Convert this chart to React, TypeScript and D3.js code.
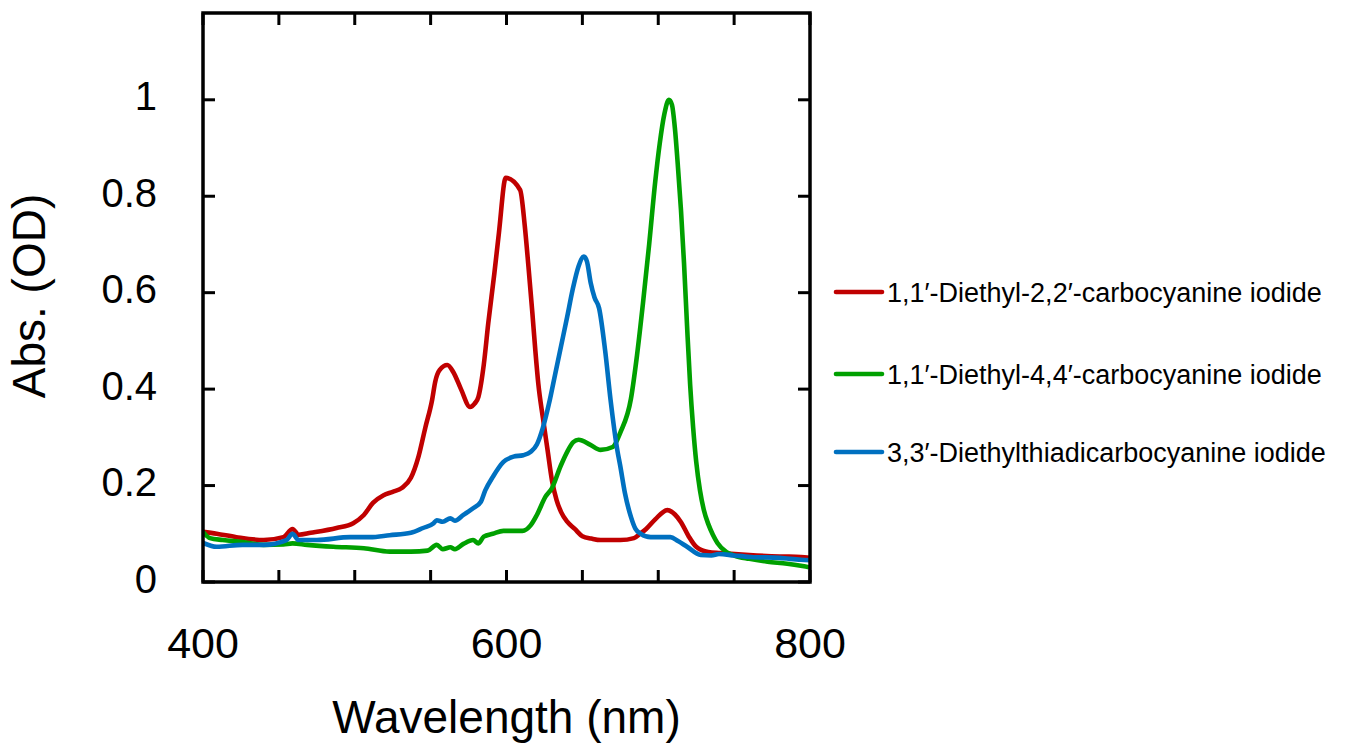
import * as d3 from "d3";

// absorbance spectra (wavelength nm, OD)
const redX = [400, 409, 422, 440, 453, 459, 463, 471, 488, 499, 506, 512, 519, 525, 531, 537, 542, 546.5, 551, 553, 556, 561, 565, 570, 576, 579, 581.5, 585, 588, 592, 595, 599.5, 609, 612, 614.5, 617, 619, 621, 624, 627, 630, 633, 636, 640, 645, 650, 656, 662, 675, 684, 688, 692, 698, 706, 711, 715, 720, 725, 733, 741, 760, 780, 794, 800];
const redY = [0.104, 0.1, 0.093, 0.087, 0.093, 0.11, 0.098, 0.102, 0.112, 0.122, 0.139, 0.164, 0.18, 0.187, 0.195, 0.216, 0.26, 0.32, 0.378, 0.415, 0.44, 0.45, 0.435, 0.4, 0.363, 0.37, 0.384, 0.45, 0.537, 0.64, 0.724, 0.838, 0.813, 0.74, 0.653, 0.56, 0.48, 0.41, 0.34, 0.275, 0.21, 0.17, 0.145, 0.125, 0.11, 0.095, 0.09, 0.087, 0.087, 0.091, 0.1, 0.11, 0.13, 0.149, 0.14, 0.124, 0.095, 0.073, 0.062, 0.06, 0.056, 0.053, 0.052, 0.05];

const greenX = [400, 404.6, 413, 426, 440, 453, 459, 468.6, 486, 506, 523, 537, 548, 554, 558, 563, 566, 571.6, 578, 581.5, 585, 591, 598, 610.5, 616, 620, 625.7, 630, 635.6, 640, 644, 647.5, 655, 662, 670, 675, 682, 686, 690, 694, 698, 701, 704, 707, 709, 711, 713, 715, 717, 719, 721, 723, 725, 727.5, 730, 733, 736, 739, 745, 750, 760, 772, 785, 795, 800];
const greenY = [0.104, 0.091, 0.087, 0.083, 0.077, 0.078, 0.08, 0.077, 0.073, 0.07, 0.063, 0.063, 0.065, 0.077, 0.068, 0.072, 0.068, 0.079, 0.087, 0.08, 0.094, 0.1, 0.106, 0.106, 0.118, 0.139, 0.177, 0.195, 0.24, 0.27, 0.29, 0.295, 0.285, 0.274, 0.28, 0.31, 0.38, 0.47, 0.58, 0.7, 0.83, 0.91, 0.97, 1.0, 0.99, 0.94, 0.86, 0.77, 0.66, 0.53, 0.41, 0.32, 0.25, 0.19, 0.15, 0.12, 0.098, 0.081, 0.062, 0.055, 0.048, 0.042, 0.038, 0.033, 0.03];

const blueX = [400, 409, 426, 440, 455, 459, 463, 475, 497, 510, 523, 537, 545, 552, 554, 558, 563, 566, 571.6, 578, 583, 586, 591, 598, 604.6, 611, 616, 620, 624, 628, 632, 636, 640, 643.5, 647.5, 651, 653, 655.5, 658, 661, 665, 668.6, 673, 675, 678, 682, 685, 688.5, 695, 708, 713, 719, 728, 735, 740, 750, 761, 780, 794, 800];
const blueY = [0.081, 0.073, 0.077, 0.077, 0.087, 0.1, 0.087, 0.087, 0.093, 0.093, 0.097, 0.102, 0.112, 0.122, 0.128, 0.125, 0.132, 0.127, 0.139, 0.153, 0.166, 0.19, 0.218, 0.249, 0.26, 0.263, 0.27, 0.285, 0.32, 0.37, 0.43, 0.49, 0.55, 0.605, 0.655, 0.675, 0.665, 0.62, 0.59, 0.568, 0.48, 0.377, 0.274, 0.24, 0.185, 0.135, 0.11, 0.1, 0.093, 0.093, 0.085, 0.073, 0.056, 0.055, 0.058, 0.055, 0.052, 0.05, 0.046, 0.045];

const seriesNames = [
  "1,1\u2032-Diethyl-2,2\u2032-carbocyanine iodide",
  "1,1\u2032-Diethyl-4,4\u2032-carbocyanine iodide",
  "3,3\u2032-Diethylthiadicarbocyanine iodide",
];
const seriesColors = ["#c00000", "#00a000", "#0070c0"];

const xTicks = [400, 450, 500, 550, 600, 650, 700, 750, 800];
const xTickLabels = [400, 600, 800];
const yTicks = [0, 0.2, 0.4, 0.6, 0.8, 1];

const FONT = "'Liberation Sans', Arial, sans-serif";

export default function App() {
  const width = 1365;
  const height = 745;
  const left = 203, right = 810, top = 13, bottom = 582;

  const x = d3.scaleLinear().domain([400, 800]).range([left, right]);
  const y = d3.scaleLinear().domain([0, 1.18]).range([bottom, top]);

  const line = d3
    .line<[number, number]>()
    .x((d) => x(d[0]))
    .y((d) => y(d[1]))
    .curve(d3.curveMonotoneX);

  const series = [
    d3.zip(redX, redY) as [number, number][],
    d3.zip(greenX, greenY) as [number, number][],
    d3.zip(blueX, blueY) as [number, number][],
  ];

  const tick = 12;
  const legendY = [292, 374, 452];

  return (
    <svg
      width={width}
      height={height}
      style={{ position: "absolute", left: 0, top: 0, fontFamily: FONT }}
    >
      <defs>
        <clipPath id="plot">
          <rect x={left} y={top} width={right - left} height={bottom - top} />
        </clipPath>
      </defs>

      <g clipPath="url(#plot)">
        {series.map((s, i) => (
          <path
            key={i}
            d={line(s) ?? ""}
            fill="none"
            stroke={seriesColors[i]}
            strokeWidth={4.6}
            strokeLinejoin="round"
          />
        ))}
      </g>

      {/* frame with inward ticks */}
      <rect
        x={left}
        y={top}
        width={right - left}
        height={bottom - top}
        fill="none"
        stroke="#000"
        strokeWidth={3.5}
      />
      {xTicks.map((t) => (
        <g key={"x" + t} stroke="#000" strokeWidth={3}>
          <line x1={x(t)} x2={x(t)} y1={bottom} y2={bottom - tick} />
          <line x1={x(t)} x2={x(t)} y1={top} y2={top + tick} />
        </g>
      ))}
      {yTicks.map((t) => (
        <g key={"y" + t} stroke="#000" strokeWidth={3}>
          <line x1={left} x2={left + tick} y1={y(t)} y2={y(t)} />
          <line x1={right} x2={right - tick} y1={y(t)} y2={y(t)} />
        </g>
      ))}

      {xTickLabels.map((t) => (
        <text key={"xl" + t} x={x(t)} y={658} textAnchor="middle" fontSize={43} fill="#000">
          {t}
        </text>
      ))}
      {yTicks.map((t) => (
        <text key={"yl" + t} x={157} y={y(t) + 10.5} textAnchor="end" fontSize={40} fill="#000">
          {d3.format("~g")(t)}
        </text>
      ))}

      <text x={(left + right) / 2} y={733} textAnchor="middle" fontSize={46} fill="#000">
        Wavelength (nm)
      </text>
      <text
        transform={`translate(45,296) rotate(-90)`}
        textAnchor="middle"
        fontSize={46}
        fill="#000"
      >
        Abs. (OD)
      </text>

      {/* legend */}
      {seriesNames.map((n, i) => (
        <g key={n}>
          <line
            x1={836}
            x2={882}
            y1={legendY[i]}
            y2={legendY[i]}
            stroke={seriesColors[i]}
            strokeWidth={4.6}
            strokeLinecap="round"
          />
          <text x={887} y={legendY[i] + 10} fontSize={27} fill="#000">
            {n}
          </text>
        </g>
      ))}
    </svg>
  );
}
